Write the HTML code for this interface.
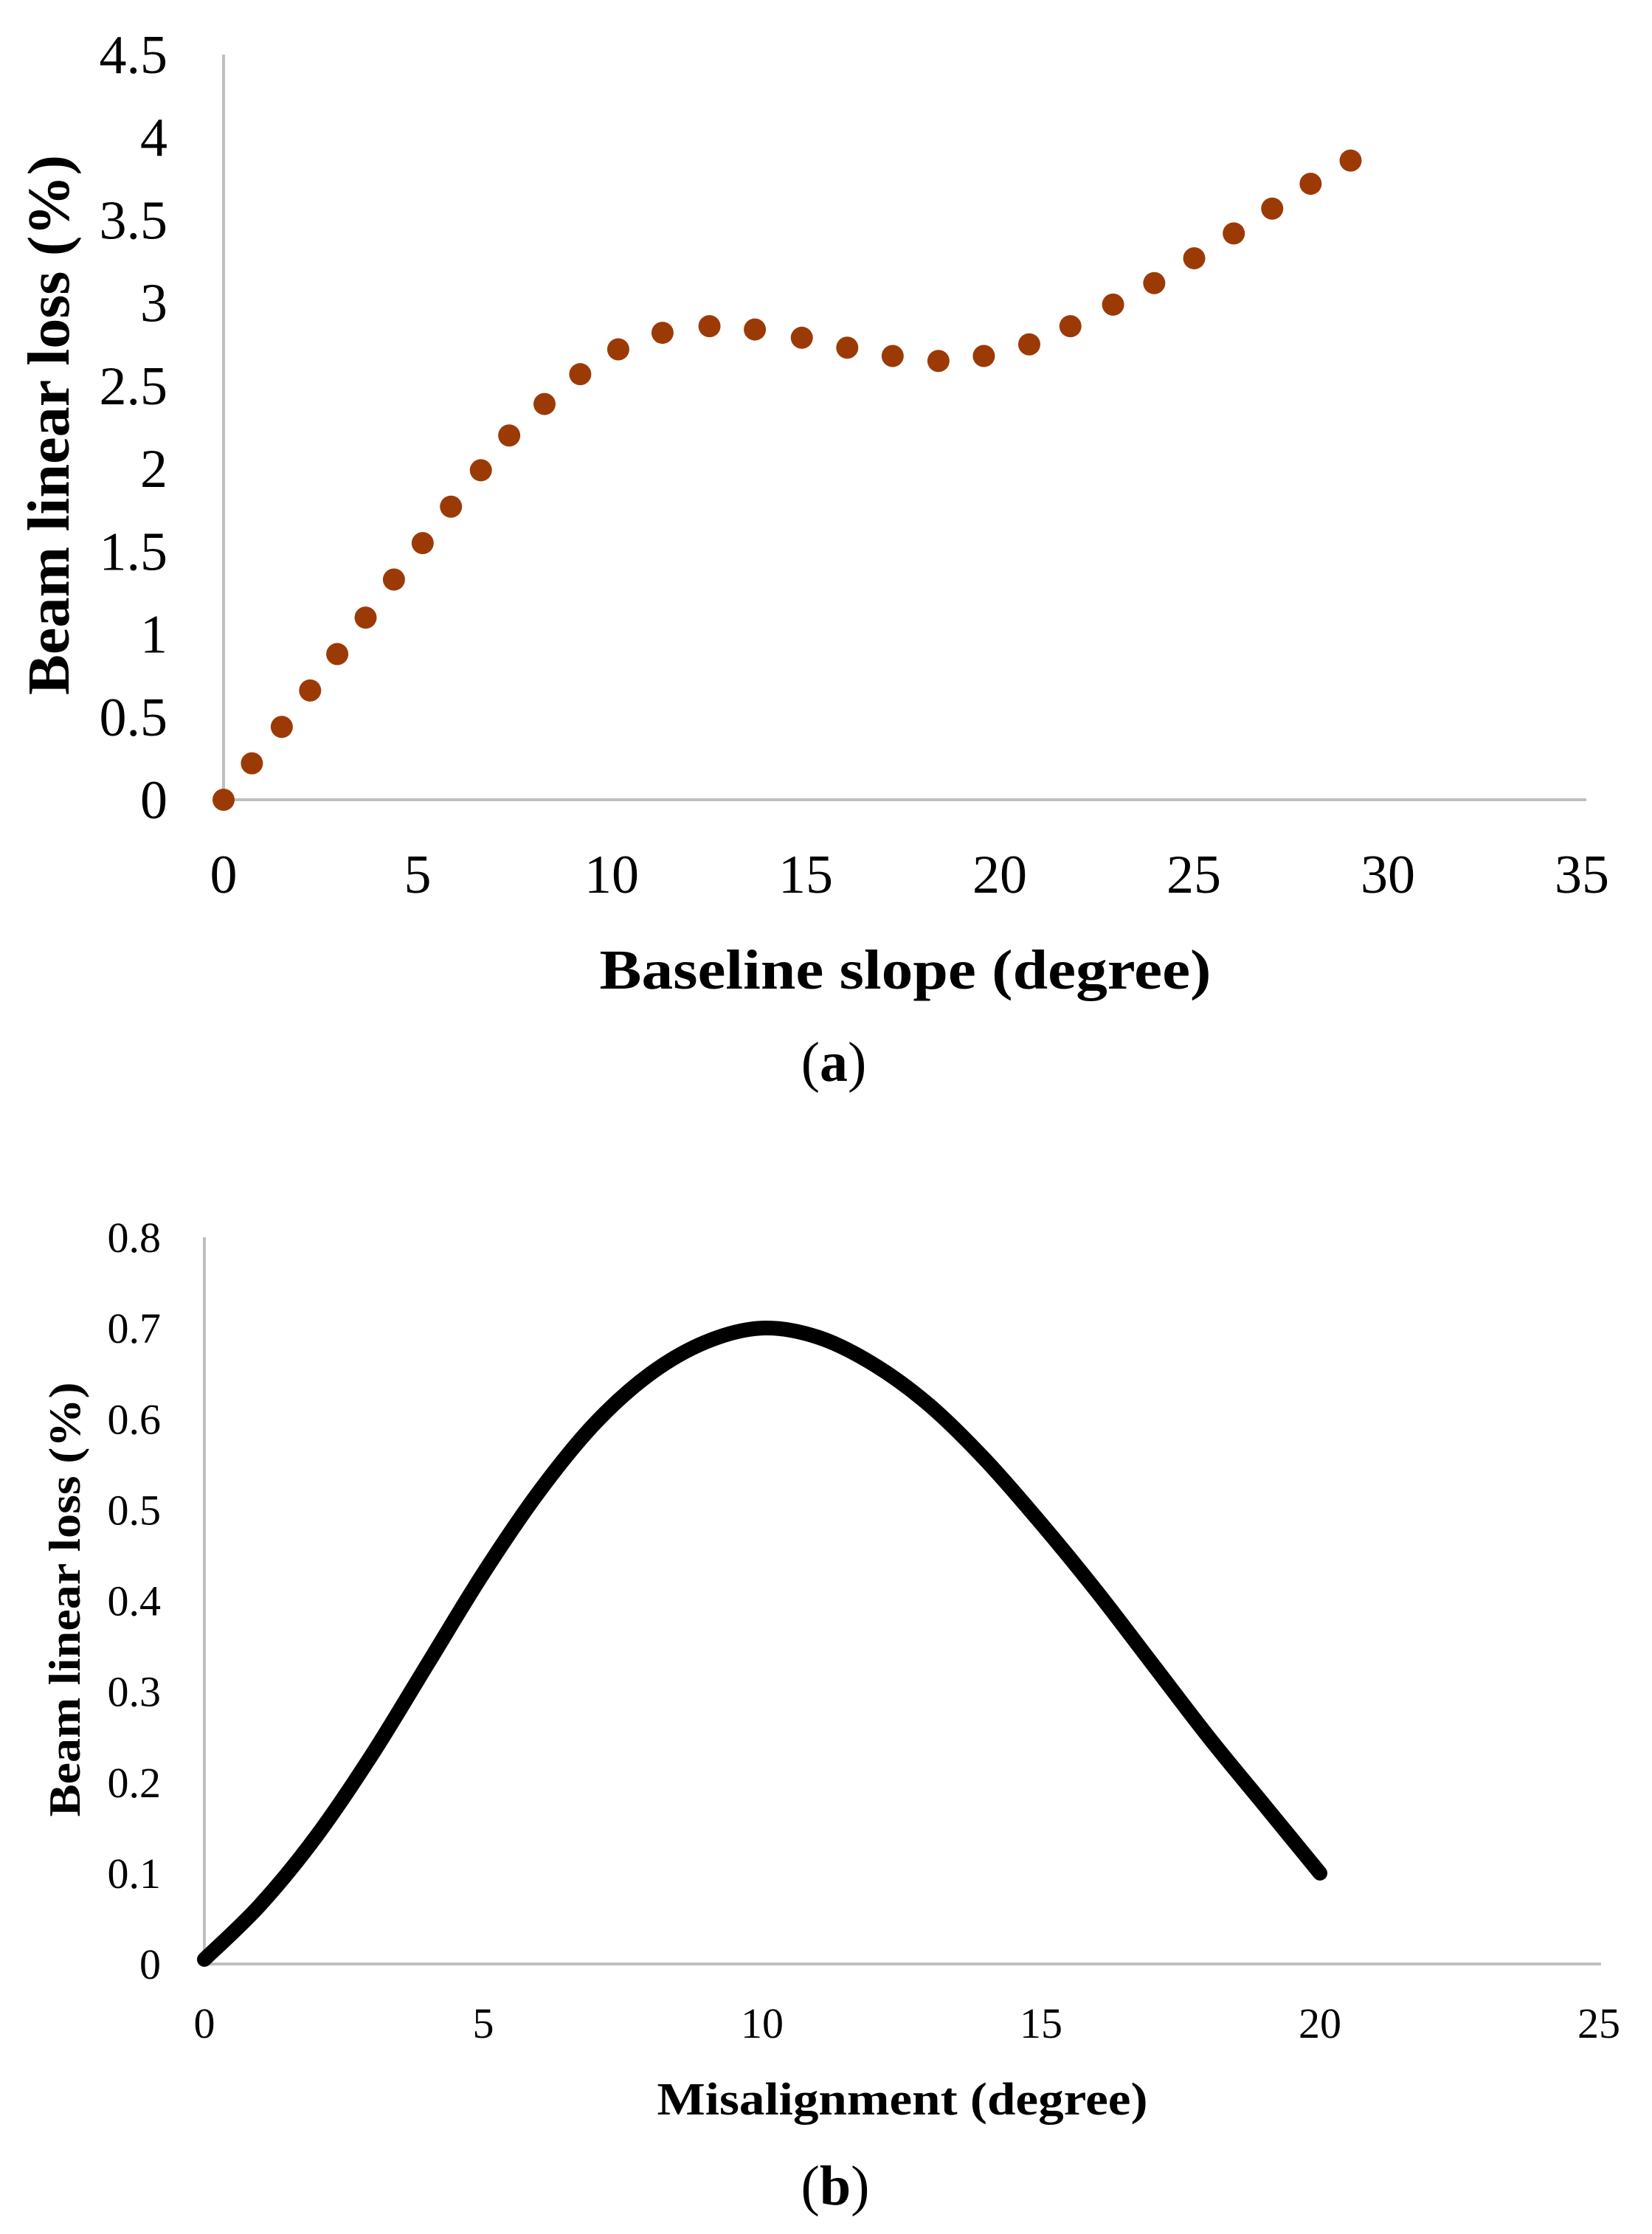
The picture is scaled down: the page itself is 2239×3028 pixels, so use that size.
<!DOCTYPE html>
<html><head><meta charset="utf-8"><style>
html,body{margin:0;padding:0;background:#fff}
svg{display:block;font-family:"Liberation Serif",serif}
</style></head><body>
<svg id="fig" width="2239" height="3028" viewBox="0 0 2239 3028" xmlns="http://www.w3.org/2000/svg">
<g id="ca"></g>
<g id="cb"></g>
</svg>
<script>
// Chart (a) data
const aX = [0,0.73,1.5,2.23,2.93,3.66,4.39,5.13,5.86,6.63,7.36,8.27,9.19,10.17,11.31,12.52,13.69,14.9,16.07,17.24,18.42,19.59,20.76,21.82,22.92,23.98,25.01,26.03,27.02,28.01,29.04];
const aY = [0,0.22,0.44,0.66,0.88,1.1,1.33,1.55,1.77,1.99,2.2,2.39,2.57,2.72,2.82,2.86,2.84,2.79,2.73,2.68,2.65,2.68,2.75,2.86,2.99,3.12,3.27,3.42,3.57,3.72,3.86];
const aXTicks = ["0","5","10","15","20","25","30","35"];
const aYTicks = ["0","0.5","1","1.5","2","2.5","3","3.5","4","4.5"];
// Chart (b) data
const bX = [0,1,2,3,4,5,6,7,8,9,10,11,12,13,14,15,16,17,18,19,20];
const bY = [0.005,0.065,0.14,0.23,0.33,0.43,0.52,0.595,0.65,0.685,0.7,0.69,0.66,0.615,0.555,0.485,0.41,0.33,0.25,0.175,0.1];
const bXTicks = ["0","5","10","15","20","25"];
const bYTicks = ["0","0.1","0.2","0.3","0.4","0.5","0.6","0.7","0.8"];

const NS="http://www.w3.org/2000/svg";
function mk(parent,tag,attrs,text){const e=document.createElementNS(NS,tag);for(const k in attrs)e.setAttribute(k,attrs[k]);if(text!==undefined)e.textContent=text;parent.appendChild(e);return e;}

// ---- Chart a ----
const ga=document.getElementById('ca');
const axA=v=>303+v*(2144-303)/35;
const ayA=v=>1084-v*(1084-74)/4.5;
let e;
e=mk(ga,'line',{x1:303,y1:74,x2:303,y2:1084,stroke:'#bfbfbf','stroke-width':4});


e=mk(ga,'line',{x1:301,y1:1084,x2:2150,y2:1084,stroke:'#bfbfbf','stroke-width':4});


aYTicks.forEach(t=>{const el=mk(ga,'text',{x:227,y:ayA(parseFloat(t))+25,'text-anchor':'end','font-size':74},t);

});
aXTicks.forEach(t=>{const el=mk(ga,'text',{x:axA(parseFloat(t)),y:1210,'text-anchor':'middle','font-size':74},t);

});
aX.forEach((x,i)=>{const el=mk(ga,'circle',{cx:axA(x),cy:ayA(aY[i]),r:15,fill:'#9c3a06'});

});
e=mk(ga,'text',{x:1227,y:1340,'text-anchor':'middle','font-size':76,'font-weight':'bold',textLength:829,lengthAdjust:'spacingAndGlyphs'},'Baseline slope (degree)');


e=mk(ga,'text',{x:0,y:0,'text-anchor':'middle','font-size':80,'font-weight':'bold',transform:'translate(93,576) rotate(-90)',textLength:732,lengthAdjust:'spacingAndGlyphs'},'Beam linear loss (%)');


e=mk(ga,'text',{x:1130,y:1465,'text-anchor':'middle','font-size':76},'');
e.innerHTML='(<tspan font-weight="bold">a</tspan>)';



// ---- Chart b ----
const gb=document.getElementById('cb');
const axB=v=>277+v*(2167-277)/25;
const ayB=v=>2662-v*(2662-1677)/0.8;
e=mk(gb,'line',{x1:277,y1:1677,x2:277,y2:2662,stroke:'#bfbfbf','stroke-width':4});


e=mk(gb,'line',{x1:275,y1:2662,x2:2170,y2:2662,stroke:'#bfbfbf','stroke-width':4});


bYTicks.forEach(t=>{const el=mk(gb,'text',{x:218,y:ayB(parseFloat(t))+20,'text-anchor':'end','font-size':58},t);

});
bXTicks.forEach(t=>{const el=mk(gb,'text',{x:axB(parseFloat(t)),y:2762,'text-anchor':'middle','font-size':58},t);

});
const pts=bX.map((x,i)=>[axB(x),ayB(bY[i])]);
let d='M'+pts[0][0]+','+pts[0][1];
for(let i=0;i<pts.length-1;i++){const p0=pts[Math.max(0,i-1)],p1=pts[i],p2=pts[i+1],p3=pts[Math.min(pts.length-1,i+2)];
const c1=[p1[0]+(p2[0]-p0[0])/6,p1[1]+(p2[1]-p0[1])/6],c2=[p2[0]-(p3[0]-p1[0])/6,p2[1]-(p3[1]-p1[1])/6];
d+=' C'+c1[0]+','+c1[1]+' '+c2[0]+','+c2[1]+' '+p2[0]+','+p2[1];}
e=mk(gb,'path',{d:d,fill:'none',stroke:'#000','stroke-width':20,'stroke-linecap':'round','stroke-linejoin':'round'});


e=mk(gb,'text',{x:1223,y:2866,'text-anchor':'middle','font-size':62,'font-weight':'bold',textLength:665,lengthAdjust:'spacingAndGlyphs'},'Misalignment (degree)');


e=mk(gb,'text',{x:0,y:0,'text-anchor':'middle','font-size':60,'font-weight':'bold',transform:'translate(108,2168) rotate(-90)',textLength:589,lengthAdjust:'spacingAndGlyphs'},'Beam linear loss (%)');


e=mk(gb,'text',{x:1132,y:2988,'text-anchor':'middle','font-size':76},'');
e.innerHTML='(<tspan font-weight="bold">b</tspan>)';


</script>
</body></html>
